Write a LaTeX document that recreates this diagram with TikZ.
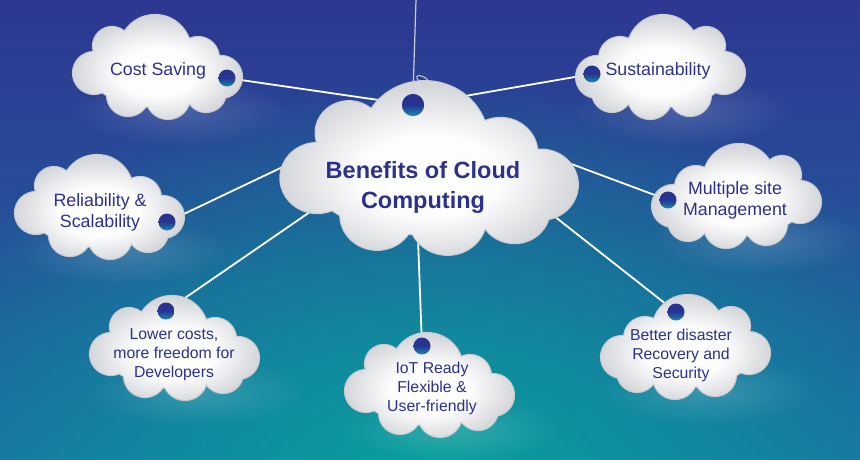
\documentclass[tikz,border=0pt]{standalone}
\usepackage{fontspec}
\setmainfont{Liberation Sans}
\usepackage{tikz}
\usetikzlibrary{fadings}

\definecolor{bgindigo}{RGB}{45,55,145}
\definecolor{bgmid}{RGB}{38,80,153}
\definecolor{bgblue}{RGB}{28,108,165}
\definecolor{bgteal}{RGB}{8,160,156}
\definecolor{cloudgray}{RGB}{214,215,219}
\definecolor{cloudedge}{RGB}{200,202,207}
\definecolor{inknavy}{RGB}{44,50,140}
\definecolor{knobnavy}{RGB}{40,52,145}
\definecolor{knobteal}{RGB}{22,140,175}
\definecolor{stringgray}{RGB}{205,208,212}

\pgfdeclareradialshading{cloudshade}{\pgfpoint{0bp}{-3bp}}{color(0bp)=(white); color(12bp)=(white!94!cloudgray); color(25bp)=(cloudgray); color(50bp)=(cloudgray)}
\tikzfading[name=glowfade, inner color=transparent!0, outer color=transparent!100]
\pgfdeclarelayer{bg}
\pgfdeclarelayer{links}
\pgfsetlayers{bg,links,main}

\tikzset{
  puff/.pic={
    \shade[shading=cloudshade,
           preaction={draw=cloudedge, line width=2.2pt}]
      (-64,6) circle (21) (-46,-21) circle (19) (-3,-16) circle (36)
      (40,-9) circle (21) (63,10) circle (21) (-30,28) circle (21)
      (10,30) circle (22) (48,25) circle (20) (0,8) ellipse (66 and 32);
  }
}

\begin{document}
\begin{tikzpicture}[x=1pt,y=-1pt]
    \tikzstyle{knob}=[circle,minimum size=17pt,inner sep=0pt,top color=knobnavy,bottom color=knobteal,middle color=knobnavy]
    \tikzstyle{txt}=[text=inknavy,align=center,inner sep=0pt,font=\fontsize{15.8}{19}\selectfont]
    \tikzstyle{txtbig}=[txt,font=\fontsize{17.8}{21}\selectfont]
    \tikzstyle{link}=[white,line width=1.8pt]
    \tikzstyle{string}=[stringgray,line width=1.2pt]
    \tikzstyle{glow}=[white,opacity=0.16,path fading=glowfade]

    \useasboundingbox (0,0) rectangle (860,460);
    \begin{pgfonlayer}{bg}
      \begin{scope}
        \clip (0,0) rectangle (860,460);
        \shade[top color=bgindigo,bottom color=bgblue,middle color=bgmid] (0,0) rectangle (860,460);
        \fill[bgteal,path fading=glowfade] (430,480) ellipse (600 and 400);
      \end{scope}
    \end{pgfonlayer}

    % soft light under the small clouds
    \foreach \cx/\cy in {158/67,660/67,100/207,736/196,175/348,430/385,685/347}
        \fill[glow] (\cx+22,\cy+44) ellipse (110 and 34);

    % clouds
    \pic at (430,168) [xscale=1.76,yscale=1.67] {puff};
    \pic at (158,67) {puff};
    \pic at (660,67) [xscale=-1] {puff};
    \pic at (100,207) {puff};
    \pic at (736,196) [xscale=-1] {puff};
    \pic at (175,348) {puff};
    \pic at (430,385) {puff};
    \pic at (685,347) [xscale=-1] {puff};

    % hanging string
    \coordinate (hook) at (416,0);
    \node[knob,minimum size=22pt] (hub) at (413,105) {};
    \draw[string] (hook) -- (hub.north);
    \draw[string,line width=1pt,rotate around={-30:(423,80)}] (423,80) ellipse (7 and 3);
    \node[knob,minimum size=22pt] at (hub) {};

    % pins
    \node[knob] (p1) at (227,78)  {};
    \node[knob] (p2) at (592,74)  {};
    \node[knob] (p3) at (167,222) {};
    \node[knob] (p4) at (668,200) {};
    \node[knob] (p5) at (166,311) {};
    \node[knob] (p6) at (422,346) {};
    \node[knob] (p7) at (676,312) {};
    \coordinate (hubback) at (400,150);

    \begin{pgfonlayer}{links}
      \foreach \i in {1,2,3,4,6,7}
          \draw[link] (p\i) -- (hub);
      \draw[link] (p5) -- (hubback);
    \end{pgfonlayer}

    % texts
    \node[txt,font=\fontsize{23.5}{30}\selectfont\bfseries] (head) at (423,187) {Benefits of Cloud\\Computing};
    \node[txtbig] (t1) at (158,71)  {Cost Saving};
    \node[txtbig] (t2) at (658,71)  {Sustainability};
    \node[txtbig] (t3) at (100,212) {Reliability \&\\Scalability};
    \node[txtbig] (t4) at (735,200) {Multiple site\\Management};
    \node[txt]    (t5) at (174,355) {Lower costs,\\more freedom for\\Developers};
    \node[txt]    (t6) at (432,388) {IoT Ready\\Flexible \&\\User-friendly};
    \node[txt]    (t7) at (681,355) {Better disaster\\Recovery and\\Security};
\end{tikzpicture}
\end{document}
